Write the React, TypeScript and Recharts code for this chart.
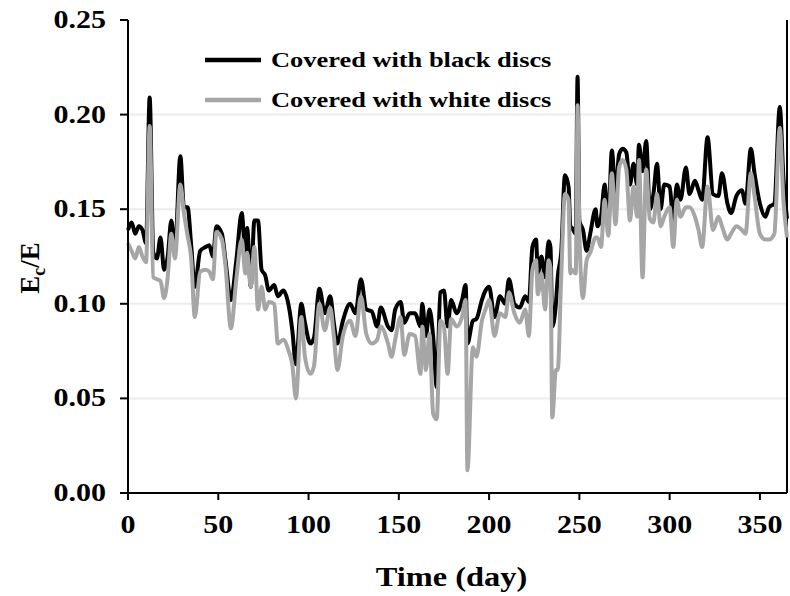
import React from 'react';
import { LineChart, Line, XAxis, YAxis, ReferenceLine, Legend, Label } from 'recharts';

// day of year
const DAYS = [
  0, 2, 4, 6, 8, 10, 12, 14, 16, 18, 20, 22, 24, 26, 29, 31, 33, 35, 37, 40,
  43, 45, 47, 49, 52, 54, 57, 60, 63, 65, 66, 68, 70, 72, 74, 76, 78, 81, 83, 86,
  89, 91, 93, 96, 98, 101, 103, 106, 109, 112, 114, 116, 119, 123, 126, 129, 132, 135, 138, 140,
  144, 146, 148, 151, 153, 156, 159, 162, 163, 165, 167, 169, 171, 173, 175, 177, 179, 182, 185, 187,
  188, 191, 193, 196, 198, 200, 203, 206, 209, 211, 214, 217, 220, 222, 224, 226, 227, 229, 231, 233,
  234, 235, 237, 238, 240, 242, 244, 245, 246, 248, 249, 250, 252, 254, 256, 259, 260, 262, 264, 266,
  268, 270, 272, 274, 276, 278, 280, 282, 283, 285, 287, 289, 291, 293, 295, 297, 300, 302, 304, 306,
  309, 311, 314, 316, 318, 321, 324, 327, 329, 332, 334, 337, 340, 342, 345, 347, 350, 353, 355, 358,
  361, 363, 365,
];

const BLACK_DISCS = [
  0.139, 0.143, 0.137, 0.141, 0.139, 0.132, 0.209, 0.127, 0.124, 0.135, 0.118, 0.125, 0.144, 0.128, 0.178, 0.151, 0.151, 0.131, 0.109, 0.128,
  0.130, 0.131, 0.125, 0.141, 0.137, 0.123, 0.102, 0.123, 0.148, 0.127, 0.140, 0.109, 0.144, 0.144, 0.118, 0.115, 0.107, 0.110, 0.104, 0.107,
  0.099, 0.086, 0.068, 0.100, 0.090, 0.079, 0.082, 0.108, 0.095, 0.104, 0.090, 0.079, 0.091, 0.100, 0.095, 0.113, 0.097, 0.096, 0.088, 0.098,
  0.088, 0.086, 0.097, 0.101, 0.090, 0.095, 0.095, 0.088, 0.100, 0.083, 0.097, 0.083, 0.056, 0.106, 0.107, 0.088, 0.102, 0.095, 0.102, 0.110,
  0.079, 0.091, 0.092, 0.102, 0.107, 0.109, 0.093, 0.104, 0.100, 0.113, 0.100, 0.098, 0.104, 0.101, 0.130, 0.134, 0.116, 0.125, 0.114, 0.133,
  0.130, 0.088, 0.100, 0.114, 0.128, 0.168, 0.162, 0.141, 0.140, 0.137, 0.220, 0.144, 0.139, 0.128, 0.137, 0.150, 0.141, 0.146, 0.163, 0.142,
  0.181, 0.158, 0.179, 0.182, 0.180, 0.163, 0.174, 0.163, 0.184, 0.170, 0.186, 0.150, 0.158, 0.174, 0.150, 0.163, 0.162, 0.144, 0.163, 0.155,
  0.172, 0.158, 0.165, 0.160, 0.155, 0.188, 0.158, 0.157, 0.169, 0.153, 0.148, 0.157, 0.160, 0.153, 0.182, 0.169, 0.153, 0.146, 0.151, 0.153,
  0.204, 0.167, 0.145,
];

const WHITE_DISCS = [
  0.132, 0.128, 0.124, 0.130, 0.125, 0.122, 0.194, 0.114, 0.113, 0.112, 0.103, 0.114, 0.137, 0.124, 0.163, 0.148, 0.136, 0.124, 0.093, 0.117,
  0.118, 0.117, 0.113, 0.138, 0.134, 0.120, 0.087, 0.113, 0.134, 0.116, 0.127, 0.109, 0.130, 0.097, 0.109, 0.097, 0.101, 0.100, 0.079, 0.081,
  0.075, 0.068, 0.050, 0.093, 0.072, 0.063, 0.067, 0.100, 0.086, 0.098, 0.083, 0.065, 0.083, 0.091, 0.083, 0.104, 0.084, 0.079, 0.081, 0.088,
  0.079, 0.072, 0.081, 0.093, 0.073, 0.084, 0.083, 0.063, 0.088, 0.065, 0.084, 0.042, 0.039, 0.091, 0.088, 0.063, 0.092, 0.088, 0.093, 0.102,
  0.012, 0.077, 0.072, 0.091, 0.097, 0.102, 0.083, 0.095, 0.093, 0.106, 0.095, 0.090, 0.097, 0.083, 0.118, 0.123, 0.105, 0.116, 0.097, 0.123,
  0.119, 0.040, 0.065, 0.065, 0.116, 0.158, 0.155, 0.116, 0.118, 0.116, 0.205, 0.139, 0.103, 0.123, 0.127, 0.135, 0.135, 0.130, 0.155, 0.136,
  0.169, 0.142, 0.172, 0.176, 0.171, 0.144, 0.162, 0.146, 0.176, 0.114, 0.171, 0.145, 0.143, 0.158, 0.141, 0.146, 0.151, 0.130, 0.155, 0.146,
  0.151, 0.151, 0.146, 0.139, 0.130, 0.162, 0.139, 0.146, 0.141, 0.134, 0.137, 0.141, 0.139, 0.137, 0.169, 0.157, 0.137, 0.134, 0.134, 0.137,
  0.193, 0.155, 0.135,
];

const SERIES = [
  { key: 'black', name: 'Covered with black discs', color: '#000000' },
  { key: 'white', name: 'Covered with white discs', color: '#a6a6a6' },
];

const X_TICKS = [0, 50, 100, 150, 200, 250, 300, 350];
const Y_TICKS = [0, 0.05, 0.1, 0.15, 0.2, 0.25];
const GRID_VALUES = [0.05, 0.1, 0.15, 0.2];

const data = DAYS.map((day, i) => ({ day, black: BLACK_DISCS[i], white: WHITE_DISCS[i] }));

const FONT = '"Liberation Serif", "Times New Roman", serif';

const XTick = (props: any) => {
  const { x, y, payload } = props;
  return (
    <text
      transform={`translate(${x},${y + 31}) scale(1.2,1)`}
      textAnchor="middle"
      fontFamily={FONT}
      fontWeight="bold"
      fontSize={25}
      fill="#000"
    >
      {payload.value}
    </text>
  );
};

const YTick = (props: any) => {
  const { x, y, payload } = props;
  return (
    <text
      transform={`translate(${x - 12},${y + 8}) scale(1.2,1)`}
      textAnchor="end"
      fontFamily={FONT}
      fontWeight="bold"
      fontSize={25}
      fill="#000"
    >
      {Number(payload.value).toFixed(2)}
    </text>
  );
};

const XTitle = (props: any) => {
  const { viewBox } = props;
  const cx = viewBox.x + viewBox.width / 2 - 6;
  return (
    <text
      transform={`translate(${cx},586) scale(1.2,1)`}
      textAnchor="middle"
      fontFamily={FONT}
      fontWeight="bold"
      fontSize={27}
      fill="#000"
    >
      Time (day)
    </text>
  );
};

const YTitle = () => (
  <text
    transform="translate(39,268) rotate(-90)"
    textAnchor="middle"
    fontFamily={FONT}
    fontWeight="bold"
    fontSize={27}
    fill="#000"
  >
    E
    <tspan fontSize={18} dy={6}>c</tspan>
    <tspan dy={-6}>/E</tspan>
  </text>
);

const renderLegend = () => (
  <div>
    {SERIES.map((s) => (
      <div key={s.key} style={{ display: 'flex', alignItems: 'center', height: 40 }}>
        <svg width={56} height={6}>
          <line x1={0} y1={3} x2={56} y2={3} stroke={s.color} strokeWidth={4.5} />
        </svg>
        <span
          style={{
            marginLeft: 10,
            fontFamily: FONT,
            fontWeight: 'bold',
            fontSize: 22,
            color: '#000',
            whiteSpace: 'nowrap',
            transform: 'scaleX(1.2)',
            transformOrigin: 'left center',
            display: 'inline-block',
          }}
        >
          {s.name}
        </span>
      </div>
    ))}
  </div>
);

export default function App() {
  return (
    <div style={{ position: 'absolute', left: 0, top: 0, background: '#fff' }}>
      <LineChart width={790} height={596} data={data} margin={{ top: 20, right: 3, bottom: 0, left: 0 }}>
        {GRID_VALUES.map((v) => (
          <ReferenceLine key={v} y={v} stroke="#ececec" strokeWidth={2} />
        ))}
        <XAxis
          type="number"
          dataKey="day"
          domain={[0, 365]}
          ticks={X_TICKS}
          height={103}
          tickSize={7}
          axisLine={{ stroke: '#000', strokeWidth: 2 }}
          tickLine={{ stroke: '#000', strokeWidth: 2 }}
          tick={<XTick />}
          interval={0}
        >
          <Label content={<XTitle />} />
        </XAxis>
        <YAxis
          type="number"
          domain={[0, 0.25]}
          ticks={Y_TICKS}
          width={128}
          tickSize={8}
          axisLine={{ stroke: '#000', strokeWidth: 2 }}
          tickLine={{ stroke: '#000', strokeWidth: 2 }}
          tick={<YTick />}
          interval={0}
        >
          <Label content={<YTitle />} />
        </YAxis>
        <ReferenceLine x={365} stroke="#000" strokeWidth={2} />
        {SERIES.map((s) => (
          <Line
            key={s.key}
            type="monotone"
            dataKey={s.key}
            name={s.name}
            stroke={s.color}
            strokeWidth={4}
            dot={false}
            isAnimationActive={false}
          />
        ))}
        <Legend
          layout="horizontal"
          verticalAlign="middle"
          align="center"
          content={renderLegend}
          wrapperStyle={{ top: 40, left: 205, width: 380, height: 80 }}
        />
      </LineChart>
    </div>
  );
}
